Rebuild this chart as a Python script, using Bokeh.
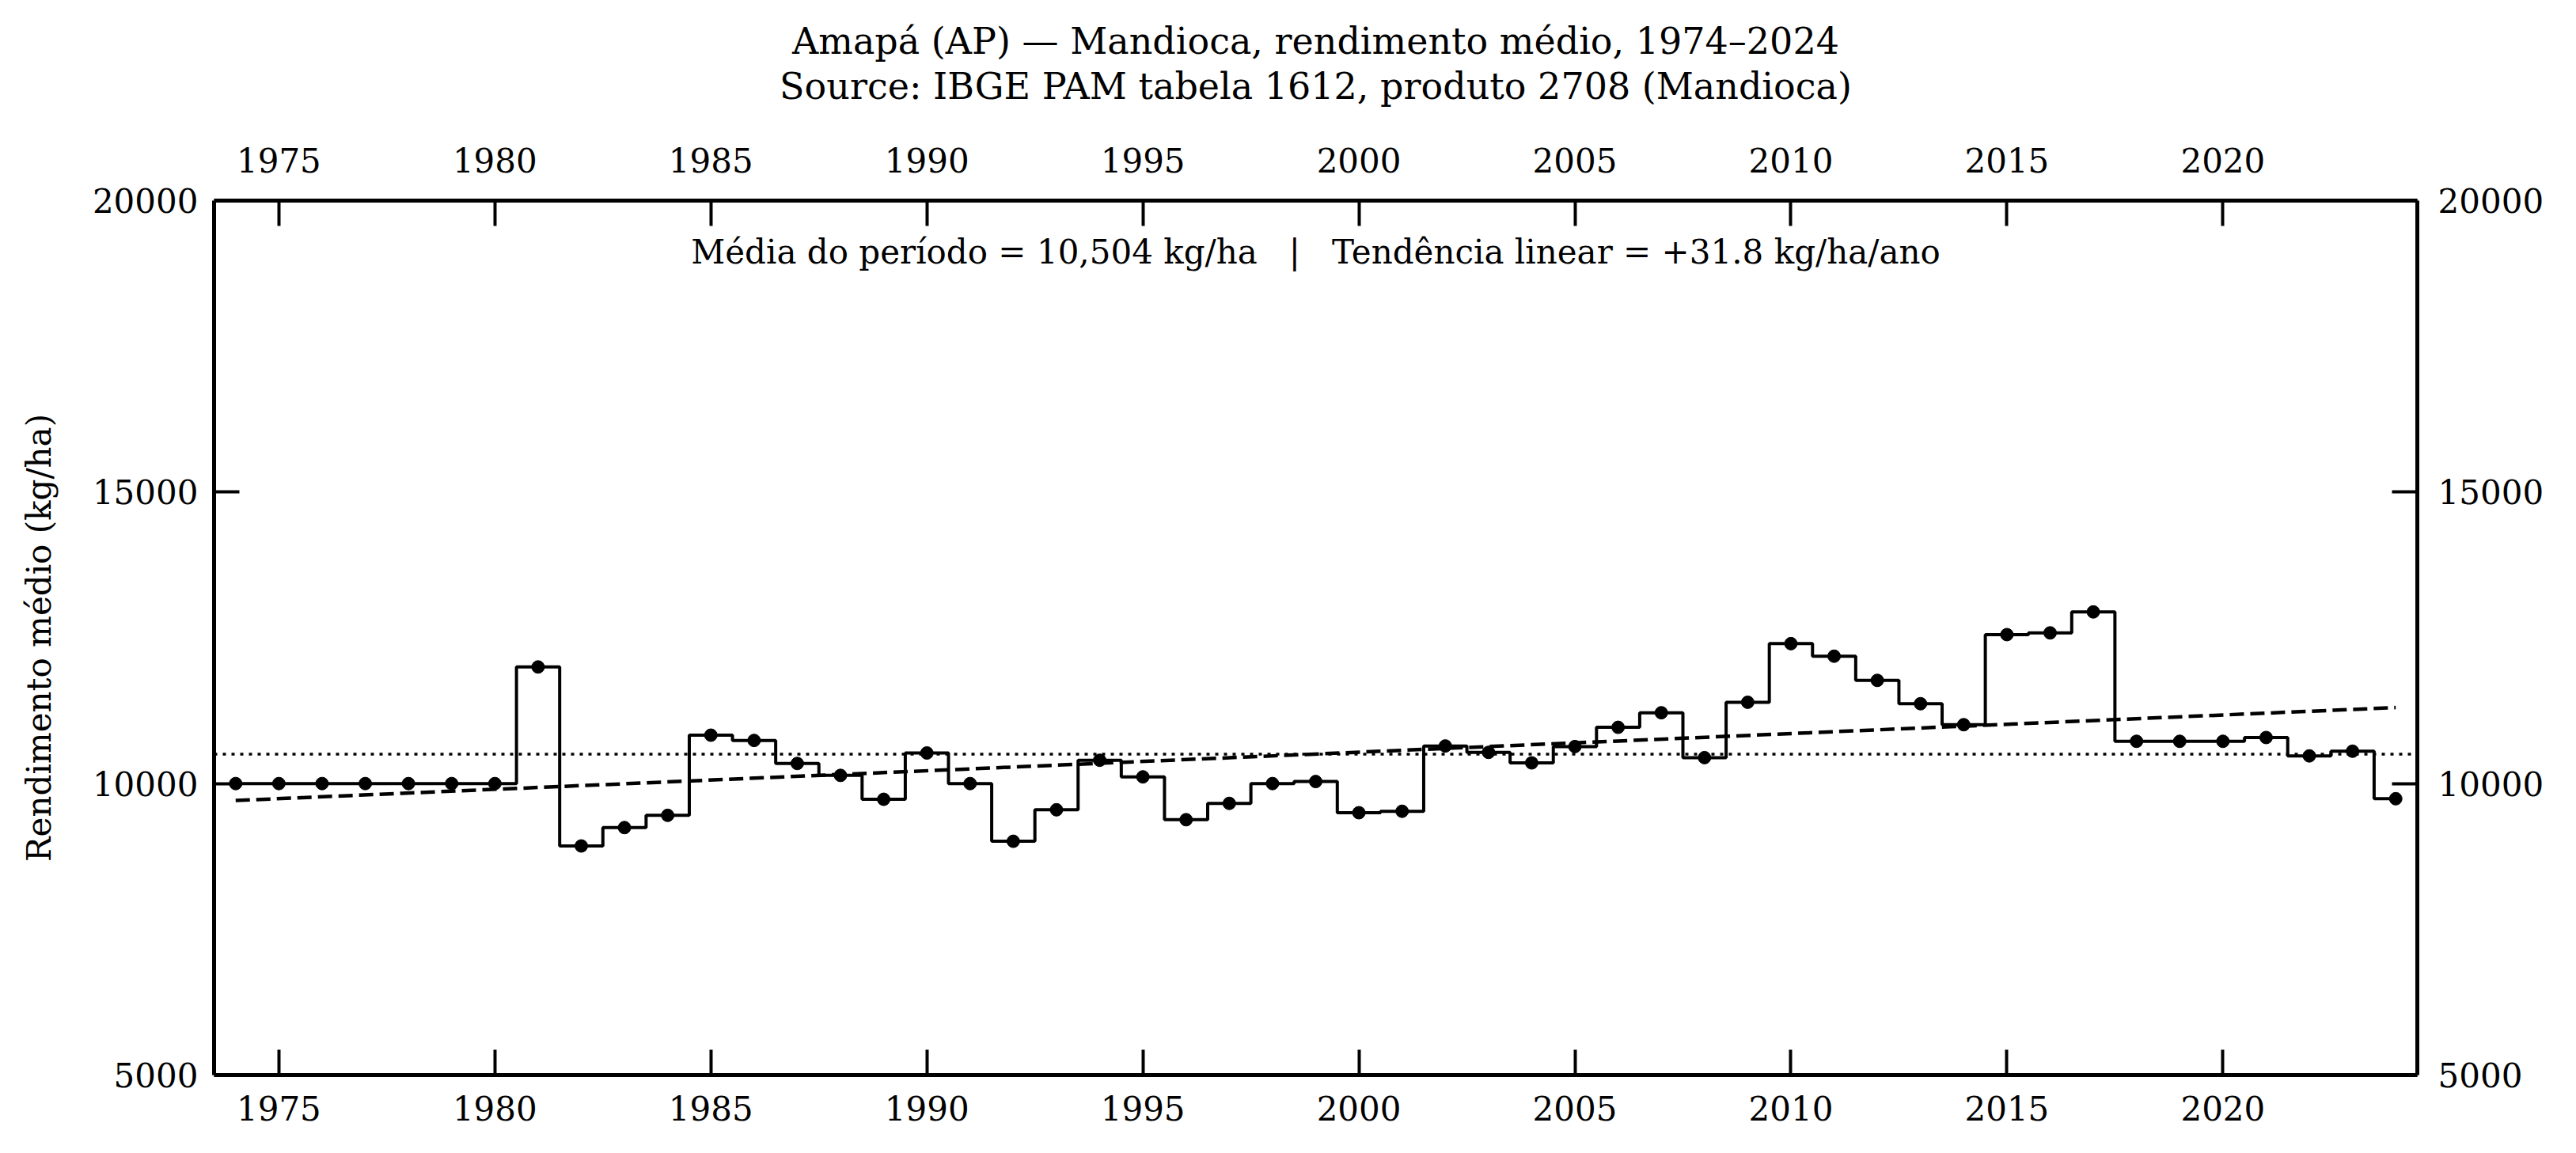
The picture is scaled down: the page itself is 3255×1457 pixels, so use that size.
import numpy as np
from bokeh.plotting import figure
from bokeh.models import LinearAxis, FixedTicker, Span, Label, Title
from bokeh.embed import file_html
from bokeh.resources import INLINE

# ---- data ----
years = list(range(1974, 2025))
yields = [10000, 10000, 10000, 10000, 10000, 10000, 10000, 12000, 8930, 9245,
          9455, 10830, 10740, 10345, 10140, 9730, 10525, 10000, 9010, 9550,
          10400, 10115, 9380, 9660, 10000, 10035, 9500, 9525, 10645, 10535,
          10355, 10635, 10965, 11215, 10445, 11395, 12400, 12185, 11770, 11370,
          11010, 12555, 12585, 12945, 10725, 10725, 10725, 10790, 10475, 10555,
          9740]
mean_value = 10504
x_ticks = [1975, 1980, 1985, 1990, 1995, 2000, 2005, 2010, 2015, 2020]
y_ticks = [5000, 10000, 15000, 20000]
title_line1 = "Amapá (AP) — Mandioca, rendimento médio, 1974–2024"
title_line2 = "Source: IBGE PAM tabela 1612, produto 2708 (Mandioca)"
annot_text = "Média do período = 10,504 kg/ha \u00a0 | \u00a0 Tendência linear = +31.8 kg/ha/ano"
ylabel = "Rendimento médio (kg/ha)"

FONT = "DejaVu Serif"
FS = "42px"
TITLE_FS = "46px"

# trend line from least squares over the data
coef = np.polyfit(np.array(years, dtype=float), np.array(yields, dtype=float), 1)
trend_x = [years[0], years[-1]]
trend_y = [float(np.polyval(coef, years[0])), float(np.polyval(coef, years[-1]))]

p = figure(width=3255, height=1457, output_backend="svg", toolbar_location=None,
           x_range=(1973.5, 2024.5), y_range=(5000, 20000),
           min_border_left=270, min_border_right=201, min_border_top=253,
           min_border_bottom=99, title_location=None)
p.outline_line_color = None
p.xgrid.visible = False
p.ygrid.visible = False

# extra axes
top_axis = LinearAxis()
right_axis = LinearAxis()
p.add_layout(top_axis, "above")
p.add_layout(right_axis, "right")

for ax in p.xaxis:
    ax.ticker = FixedTicker(ticks=x_ticks)
for ax in p.yaxis:
    ax.ticker = FixedTicker(ticks=y_ticks)

for ax in p.xaxis + p.yaxis:
    ax.major_tick_in = 32
    ax.major_tick_out = 0
    ax.minor_tick_in = 0
    ax.minor_tick_out = 0
    ax.major_tick_line_width = 4
    ax.major_tick_line_color = "black"
    ax.axis_line_width = 5
    ax.axis_line_color = "black"
    ax.major_label_text_font = FONT
    ax.major_label_text_font_size = FS
    ax.major_label_text_color = "black"
    ax.major_label_standoff = 20

top_axis.major_label_standoff = 36
for ax in p.below:
    if isinstance(ax, LinearAxis):
        ax.major_label_standoff = 26
right_axis.major_label_standoff = 26

left_axis = [ax for ax in p.left if isinstance(ax, LinearAxis)][0]
left_axis.axis_label = ylabel
left_axis.axis_label_text_font = FONT
left_axis.axis_label_text_font_size = FS
left_axis.axis_label_text_font_style = "normal"
left_axis.axis_label_text_color = "black"
left_axis.axis_label_standoff = 40

# second title line carried by the top axis, first line as a Title above it
top_axis.axis_label = title_line2
top_axis.axis_label_text_font = FONT
top_axis.axis_label_text_font_size = TITLE_FS
top_axis.axis_label_text_font_style = "normal"
top_axis.axis_label_text_color = "black"
top_axis.axis_label_standoff = 48

p.add_layout(Title(text=title_line1, align="center", text_font=FONT,
                   text_font_size=TITLE_FS, text_font_style="normal",
                   text_color="black", standoff=0), "above")

# mean line
p.add_layout(Span(location=mean_value, dimension="width", line_color="black",
                  line_width=3.5, line_dash="4 7"))

# trend line
p.line(trend_x, trend_y, line_color="black", line_width=4.5, line_dash="18 8")

# step + markers
p.step(years, yields, mode="center", line_color="black", line_width=4)
p.scatter(years, yields, size=16, color="black")

# annotation inside the frame
p.add_layout(Label(x=1999, y=19118, text=annot_text, text_align="center",
                   text_baseline="middle", text_font=FONT, text_font_size="42px",
                   text_color="black"))

open("out.html", "w").write(file_html(p, INLINE))
